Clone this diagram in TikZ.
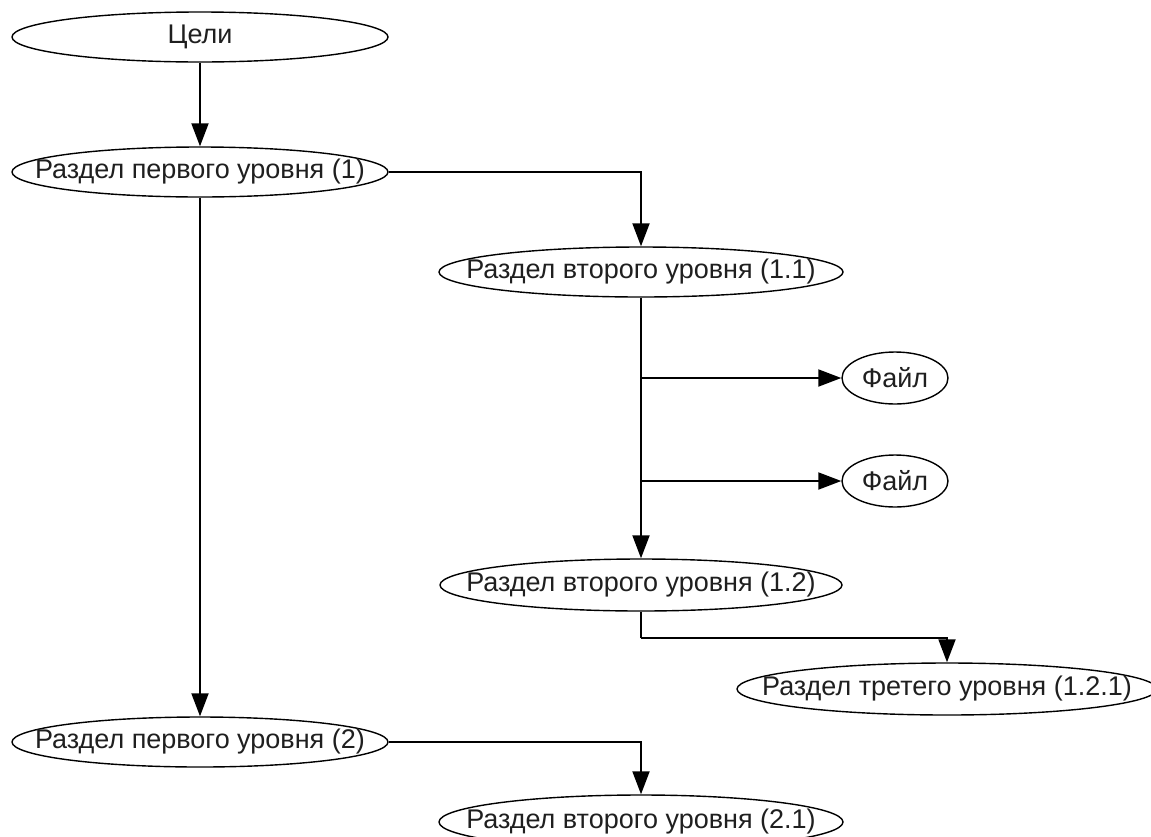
\documentclass[tikz,border=0pt]{standalone}
\usepackage{fontspec}
\setmainfont{Liberation Sans}
\usetikzlibrary{shapes.geometric,arrows.meta}
\tikzset{
  elli/.style={ellipse, draw=black, line width=1.4pt, inner sep=0pt, fill=white,
    label={[font=\fontsize{27}{31}\selectfont, text=black!88]center:#1}},
  conn/.style={draw=black, line width=1.9pt, -{Triangle[length=23pt,width=17pt]}},
  plain/.style={draw=black, line width=1.9pt}
}
\begin{document}
\begin{tikzpicture}[x=1pt,y=-1pt]
\useasboundingbox (0,0) rectangle (1151,836);
\fill[white] (0,0) rectangle (1151,836);
\clip (0,0) rectangle (1151,836);
\node[elli={Цели}, minimum width=376pt, minimum height=50pt] (c) at (200,37) {};
\node[elli={Раздел первого уровня (1)}, minimum width=376pt, minimum height=50pt] (p1) at (200,172) {};
\node[elli={Раздел второго уровня (1.1)}, minimum width=404pt, minimum height=50pt] (p11) at (641,272) {};
\node[elli={Файл}, minimum width=106pt, minimum height=52pt] (f1) at (895,378) {};
\node[elli={Файл}, minimum width=106pt, minimum height=52pt] (f2) at (895,481) {};
\node[elli={Раздел второго уровня (1.2)}, minimum width=402pt, minimum height=52pt] (p12) at (641,585) {};
\node[elli={Раздел третего уровня (1.2.1)}, minimum width=420pt, minimum height=52pt] (p121) at (947,689) {};
\node[elli={Раздел первого уровня (2)}, minimum width=376pt, minimum height=50pt] (p2) at (200,742) {};
\node[elli={Раздел второго уровня (2.1)}, minimum width=404pt, minimum height=54pt] (p21) at (641,822) {};
\coordinate (b1) at (641,378);
\coordinate (b2) at (641,481);
\coordinate (b3) at (641,638);
\draw[conn] (c.south) -- (p1.north);
\draw[conn] (p1.east) -| (p11.north);
\draw[conn] (p1.south) -- (p2.north);
\draw[conn] (p11.south) -- (p12.north);
\draw[conn] (b1) -- (f1.west);
\draw[conn] (b2) -- (f2.west);
\draw[plain] (p12.south) -- (b3);
\draw[conn] (b3) -| (p121.north);
\draw[conn] (p2.east) -| (p21.north);
\end{tikzpicture}
\end{document}
